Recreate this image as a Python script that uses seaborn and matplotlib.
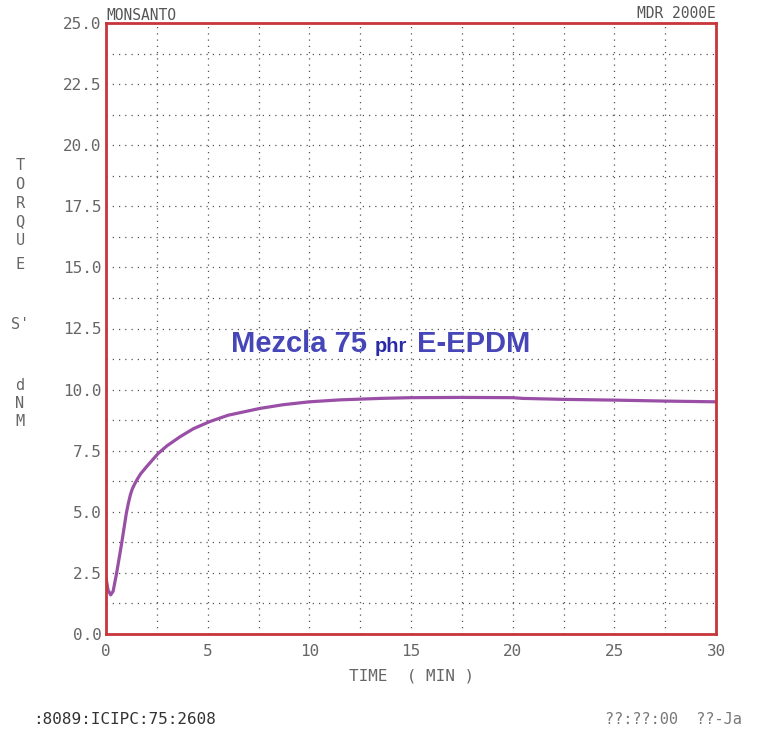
import matplotlib
matplotlib.use("Agg")
import matplotlib.pyplot as plt
from matplotlib.ticker import MultipleLocator
import seaborn as sns
import pandas as pd

# Cure curve (rheometer trace)
time_min = [0, 0.1, 0.23, 0.35, 0.52, 0.77, 1.0, 1.1, 1.2, 1.3, 1.43, 1.55, 1.7,
            2.0, 2.57, 3.0, 3.64, 4.3, 5.1, 6.0, 7.57, 8.7, 10.0, 11.5, 13.5,
            15, 17.5, 20, 20.5, 22.5, 25, 27.5, 30]
torque = [2.3, 1.8, 1.6, 1.75, 2.48, 3.71, 4.94, 5.35, 5.7, 5.95, 6.17, 6.35, 6.55,
          6.85, 7.39, 7.7, 8.07, 8.4, 8.69, 8.95, 9.23, 9.38, 9.5, 9.58, 9.64,
          9.67, 9.68, 9.67, 9.64, 9.6, 9.57, 9.53, 9.5]

x_ticks = [0, 5, 10, 15, 20, 25, 30]
y_ticks = [0.0, 2.5, 5.0, 7.5, 10.0, 12.5, 15.0, 17.5, 20.0, 22.5, 25.0]
y_label_letters = ["T", "O", "R", "Q", "U", "E", "S'", "d", "N", "M"]

df = pd.DataFrame({"time": time_min, "torque": torque})

sns.set_theme(style="white")
plt.rcParams["font.family"] = ["DejaVu Sans Mono", "DejaVu Sans"]

W, H = 758, 733
fig = plt.figure(figsize=(W / 100, H / 100), dpi=100)
ax = fig.add_axes([106 / W, 1 - 634 / H, 610 / W, 611 / H])

sns.lineplot(data=df, x="time", y="torque", ax=ax, color="#9a4fa6",
             linewidth=2.3, sort=False)

ax.set_xlim(0, 30)
ax.set_ylim(0, 25)
ax.set_xticks(x_ticks)
ax.set_yticks(y_ticks)
ax.set_xticklabels([str(v) for v in x_ticks])
ax.set_yticklabels([f"{v:.1f}" for v in y_ticks])
ax.xaxis.set_minor_locator(MultipleLocator(2.5))
ax.yaxis.set_minor_locator(MultipleLocator(1.25))
ax.grid(which="both", color="#555555", linestyle=(0, (1, 4)), linewidth=0.9)
ax.tick_params(which="both", length=0)
ax.tick_params(axis="y", pad=3, labelsize=11.5, labelcolor="#666666")
ax.tick_params(axis="x", pad=7, labelsize=11.5, labelcolor="#666666")
ax.set_xlabel("")
ax.set_ylabel("")
for s in ax.spines.values():
    s.set_color("#c8353a")
    s.set_linewidth(2.0)

def px(x, y):
    return x / W, 1 - y / H

# Header texts
fig.text(*px(106, 15), "MONSANTO", fontsize=10.5, color="#555555", ha="left", va="center")
fig.text(*px(716, 14), "MDR 2000E", fontsize=10.5, color="#555555", ha="right", va="center")

# Stacked vertical axis title
label_y = [165, 184, 203, 222, 241, 265, 325, 385, 403, 421]
for letter, yy in zip(y_label_letters, label_y):
    fig.text(*px(20, yy), letter, fontsize=11, color="#666666", ha="center", va="center")

fig.text(*px(412, 676), "TIME  ( MIN )", fontsize=11.5, color="#666666",
         ha="center", va="center")

# Sample annotation
fig.text(*px(231, 352), "Mezcla 75", fontsize=21, fontweight="bold",
         family="Liberation Sans", color="#4646b8", ha="left", va="baseline")
fig.text(*px(375, 352), "phr", fontsize=14.5, fontweight="bold",
         family="Liberation Sans", color="#2a2aa8", ha="left", va="baseline")
fig.text(*px(417, 352), "E-EPDM", fontsize=21, fontweight="bold",
         family="Liberation Sans", color="#4646b8", ha="left", va="baseline")

# Footer
fig.text(*px(33, 720), ":8089:ICIPC:75:2608", fontsize=11.5, color="#333333",
         ha="left", va="center")
fig.text(*px(605, 720), "??:??:00  ??-Ja", fontsize=11, color="#777777",
         ha="left", va="center")

fig.savefig("out.png", dpi=100, facecolor="white")
